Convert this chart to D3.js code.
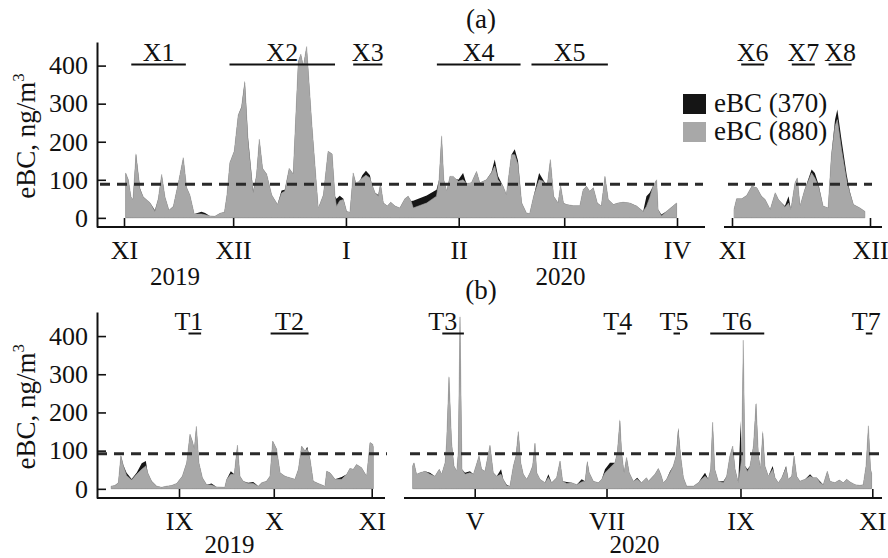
<!DOCTYPE html>
<html>
<head>
<meta charset="utf-8">
<script src="https://cdn.jsdelivr.net/npm/d3@7"></script>
<style>
  body { margin: 0; background: #fff; }
  svg text { font-family: "Liberation Serif", "Times New Roman", serif; fill: #111; }
</style>
</head>
<body>
<div id="chart"></div>
<script>
// ---------- data ----------
var thresholdA = 88;
var thresholdB = 92;

// (a) Nov 2019 - Apr 2020, day offsets from 1 Nov 2019
var a1Start = "2019-11-01";
var a1Day = [0.45, 1.19, 1.92, 2.47, 3.29, 4.39, 5.3, 7.14, 8.5, 9.43,
  10.35, 11.26, 12.36, 13.55, 14.9, 16.3, 17.2, 18.1, 19.3, 21.3,
  22.3, 23.6, 25.0, 26.4, 27.6, 28.3, 29.1, 30.3, 31.4, 32.3,
  33.2, 34.1, 35.5, 36.4, 37.2, 38.1, 39.2, 40.6, 42.2, 43.3,
  44.2, 45.4, 46.5, 47.9, 48.6, 49.3, 50.2, 51.6, 53.4, 54.8,
  56.1, 57.2, 58.0, 58.4, 59.3, 60.3, 61.2, 62.1, 63.0, 63.7,
  64.4, 65.5, 66.5, 67.6, 68.0, 69.0, 69.9, 70.5, 71.3, 72.4,
  73.3, 74.5, 75.8, 77.2, 78.1, 78.9, 79.5, 83.2, 85.9, 86.6,
  87.3, 87.9, 88.7, 89.6, 90.5, 91.9, 93.2, 94.1, 95.5, 96.9,
  97.8, 99.6, 101.0, 101.9, 102.8, 104.2, 105.1, 106.5, 107.4, 108.3,
  109.3, 110.6, 111.5, 112.6, 114.1, 115.2, 116.3, 117.2, 118.1, 119.3,
  120.0, 120.8, 121.6, 123.5, 125.3, 126.2, 127.1, 128.0, 129.0, 130.1,
  131.2, 132.2, 133.1, 134.5, 135.8, 137.2, 139.0, 140.9, 142.7, 143.6,
  144.5, 145.4, 146.4, 146.8, 147.7, 149.1, 150.9, 151.9];
var a1Bc880 = [118, 100, 55, 48, 166, 75, 55, 40, 17, 50,
  114, 55, 20, 30, 90, 158, 80, 60, 10, 10,
  8, 5, 4, 12, 15, 60, 145, 175, 270, 290,
  355, 200, 65, 110, 206, 130, 115, 60, 35, 65,
  70, 130, 115, 410, 430, 398, 450, 250, 25, 60,
  175, 168, 57, 30, 45, 48, 17, 15, 118, 92,
  95, 105, 112, 105, 92, 66, 57, 90, 39, 31,
  41, 31, 26, 50, 57, 44, 26, 39, 57, 100,
  214, 100, 70, 109, 109, 96, 100, 90, 92, 122,
  92, 100, 118, 136, 100, 83, 61, 166, 166, 140,
  40, 13, 11, 57, 100, 96, 83, 153, 57, 39,
  85, 39, 35, 32, 32, 74, 83, 70, 79, 39,
  31, 109, 48, 35, 39, 41, 39, 31, 17, 30,
  53, 83, 100, 22, 5, 17, 31, 39];
var a1Bc370 = [118, 100, 55, 48, 170, 78, 55, 40, 20, 50,
  114, 55, 20, 30, 90, 158, 80, 60, 10, 16,
  13, 5, 4, 12, 15, 60, 145, 175, 270, 292,
  360, 210, 70, 110, 208, 130, 115, 60, 35, 72,
  74, 130, 115, 410, 430, 398, 450, 250, 25, 60,
  175, 168, 57, 50, 58, 50, 17, 15, 118, 92,
  88, 112, 124, 112, 92, 66, 60, 90, 39, 31,
  41, 31, 26, 50, 57, 44, 45, 59, 74, 100,
  218, 100, 70, 109, 105, 100, 118, 90, 92, 122,
  92, 100, 120, 153, 110, 83, 61, 166, 180, 150,
  40, 13, 11, 57, 118, 100, 83, 153, 57, 39,
  85, 39, 35, 32, 32, 74, 83, 70, 79, 39,
  31, 109, 48, 35, 39, 41, 39, 31, 17, 57,
  66, 83, 100, 22, 9, 17, 31, 39];
var a1Months = ["2019-11-01", "2019-12-01", "2020-01-01", "2020-02-01", "2020-03-01", "2020-04-01"];
var a1MonthLabels = ["XI", "XII", "I", "II", "III", "IV"];

// (a) Nov 2020, day offsets from 1 Nov 2020
var a2Start = "2020-11-01";
var a2Day = [0.43, 1.0, 2.1, 3.2, 4.3, 5.4, 6.4, 7.2, 8.3, 9.4,
  10.1, 10.8, 11.5, 12.3, 12.8, 13.7, 14.2, 14.8, 15.8, 17.3,
  18.0, 18.8, 19.8, 20.9, 21.6, 22.4, 22.9, 23.8, 24.9, 25.6,
  26.4, 27.8, 28.9];
var a2Bc880 = [22, 50, 50, 59, 83, 79, 57, 48, 22, 66,
  48, 39, 28, 39, 22, 92, 105, 31, 74, 118,
  105, 83, 31, 26, 162, 241, 258, 180, 100, 66,
  35, 26, 17];
var a2Bc370 = [22, 50, 50, 59, 83, 79, 57, 48, 22, 66,
  48, 39, 31, 57, 22, 92, 105, 31, 74, 127,
  118, 88, 31, 26, 165, 258, 285, 206, 115, 70,
  35, 26, 17];
var a2Months = ["2020-11-01", "2020-12-01"];
var a2MonthLabels = ["XI", "XII"];

// (b) Aug - Oct 2019, day offsets from 1 Sep 2019
var b1Start = "2019-09-01";
var b1Day = [-21.5, -20.3, -19.2, -18.4, -17.6, -16.6, -15.0, -13.4, -11.8, -10.5,
  -9.9, -8.65, -7.06, -5.5, -3.9, -2.32, -0.74, 1.05, 2.43, 3.48,
  4.22, 4.85, 5.5, 6.3, 7.4, 8.75, 10.3, 11.9, 14.5, 15.1,
  16.4, 17.5, 18.5, 19.3, 20.3, 21.9, 23.5, 25.1, 26.2, 27.7,
  28.8, 29.65, 30.9, 32.0, 33.55, 35.1, 36.7, 37.8, 38.8, 39.9,
  40.6, 41.5, 42.5, 44.1, 46.2, 46.75, 47.8, 49.4, 51.5, 53.1,
  54.1, 55.2, 56.2, 57.8, 59.4, 60.46, 61.3, 61.5];
var b1Bc880 = [7, 9, 16, 86, 60, 35, 23, 38, 51, 60,
  42, 20, 7, 4, 7, 9, 14, 33, 68, 143,
  125, 104, 163, 68, 29, 11, 10, 5, 4, 25,
  38, 38, 114, 33, 20, 14, 14, 7, 16, 20,
  33, 125, 104, 42, 33, 29, 25, 51, 112, 99,
  104, 77, 20, 14, 7, 46, 42, 25, 25, 38,
  53, 51, 64, 55, 33, 121, 117, 110];
var b1Bc370 = [7, 9, 16, 88, 62, 42, 26, 42, 67, 73,
  42, 20, 7, 4, 7, 9, 14, 33, 68, 143,
  125, 104, 165, 68, 29, 11, 14, 5, 4, 25,
  46, 38, 116, 33, 20, 16, 18, 7, 16, 20,
  33, 125, 104, 42, 33, 29, 25, 51, 112, 99,
  110, 77, 20, 14, 7, 46, 42, 25, 31, 38,
  53, 51, 64, 55, 33, 121, 117, 110];
var b1Months = ["2019-09-01", "2019-10-01", "2019-11-01"];
var b1MonthLabels = ["IX", "X", "XI"];

// (b) Apr - Oct 2020, day offsets from 1 May 2020
var b2Start = "2020-05-01";
var b2Day = [-28.7, -28.1, -26.9, -25.3, -23.0, -20.7, -18.4, -16.4, -15.3, -13.7,
  -13.0, -11.9, -10.7, -9.6, -8.3, -7.6, -6.8, -5.9, -4.5, -2.2,
  -0.6, 0.6, 2.0, 3.2, 4.77, 7.08, 8.6, 10.17, 12.2, 13.2,
  14.8, 16.3, 17.9, 19.1, 20.2, 21.3, 22.5, 24.1, 25.6, 26.8,
  27.9, 28.7, 30.2, 32.5, 34.1, 35.6, 37.9, 39.5, 40.7, 42.6,
  44.9, 47.2, 49.5, 51.1, 52.1, 53.0, 54.9, 57.2, 58.8, 60.3,
  62.6, 64.9, 66.0, 67.2, 68.0, 69.1, 70.3, 71.5, 73.4, 75.2,
  77.2, 79.5, 80.4, 81.9, 83.4, 85.0, 86.1, 87.3, 88.8, 90.4,
  91.9, 93.2, 94.2, 95.3, 96.6, 98.1, 101.2, 103.5, 105.0, 106.6,
  108.1, 109.2, 110.1, 111.1, 112.7, 115.1, 116.6, 118.1, 119.4, 120.5,
  122.0, 123.1, 123.5, 124.3, 125.1, 126.2, 127.4, 129.0, 130.2, 131.3,
  132.3, 133.3, 134.3, 135.9, 137.9, 139.0, 140.5, 142.1, 144.1, 145.1,
  146.7, 147.8, 149.0, 150.5, 152.9, 155.2, 156.7, 158.3, 159.8, 161.3,
  163.2, 164.4, 166.7, 168.7, 170.6, 172.1, 173.7, 176.0, 178.3, 179.8,
  181.1, 182.2, 183.2, 183.7];
var b2Bc880 = [60, 68, 38, 42, 46, 38, 33, 51, 38, 68,
  121, 292, 121, 60, 46, 95, 450, 51, 38, 42,
  38, 60, 86, 51, 46, 114, 42, 33, 38, 25,
  8, 7, 60, 86, 149, 68, 38, 25, 42, 60,
  119, 42, 25, 16, 30, 16, 29, 73, 20, 14,
  16, 11, 18, 20, 68, 42, 20, 16, 25, 42,
  55, 68, 95, 178, 95, 42, 82, 42, 20, 25,
  16, 29, 20, 29, 38, 53, 38, 16, 25, 42,
  60, 86, 150, 86, 29, 7, 7, 16, 25, 33,
  25, 51, 174, 51, 20, 16, 33, 86, 112, 51,
  16, 60, 77, 389, 60, 45, 60, 112, 222, 86,
  51, 145, 60, 33, 51, 29, 16, 29, 55, 25,
  33, 86, 33, 20, 25, 33, 29, 29, 16, 11,
  46, 20, 16, 23, 16, 25, 18, 11, 9, 11,
  60, 165, 51, 40];
var b2Bc370 = [60, 68, 38, 42, 46, 42, 33, 51, 38, 68,
  121, 296, 121, 60, 46, 95, 455, 51, 42, 46,
  38, 60, 86, 51, 46, 114, 42, 33, 51, 25,
  11, 7, 60, 86, 152, 68, 38, 25, 42, 60,
  121, 42, 25, 16, 38, 16, 29, 73, 20, 18,
  16, 11, 25, 20, 73, 42, 20, 16, 25, 51,
  68, 68, 95, 182, 95, 42, 82, 42, 20, 29,
  16, 29, 20, 29, 38, 53, 38, 16, 25, 46,
  60, 86, 160, 86, 29, 7, 7, 16, 29, 42,
  25, 51, 176, 51, 20, 20, 33, 86, 112, 51,
  16, 178, 77, 380, 60, 51, 60, 112, 226, 86,
  51, 152, 60, 33, 60, 29, 16, 29, 60, 25,
  33, 86, 33, 20, 25, 38, 29, 29, 20, 11,
  46, 20, 16, 23, 16, 25, 18, 11, 9, 11,
  60, 165, 51, 40];
var b2Months = ["2020-05-01", "2020-07-01", "2020-09-01", "2020-11-01"];
var b2MonthLabels = ["V", "VII", "IX", "XI"];

var yTicks = [0, 100, 200, 300, 400];

var aYears = ["2019", "2020"];
var aYearDates = ["2019-11-15", "2020-02-29"];
var bYears = ["2019", "2020"];
var bYearDates = ["2019-09-17", "2020-07-14"];

var aPeriodNames = ["X1", "X2", "X3", "X4", "X5", "X6", "X7", "X8"];
var aPeriodFrom = ["2019-11-03", "2019-11-30", "2020-01-03", "2020-01-26", "2020-02-21", "2020-11-03", "2020-11-14", "2020-11-22"];
var aPeriodTo = ["2019-11-18", "2019-12-29", "2020-01-11", "2020-02-18", "2020-03-13", "2020-11-08", "2020-11-19", "2020-11-27"];
var bPeriodNames = ["T1", "T2", "T3", "T4", "T5", "T6", "T7"];
var bPeriodFrom = ["2019-09-04", "2019-09-30", "2020-04-16", "2020-07-06", "2020-08-01", "2020-08-18", "2020-10-29"];
var bPeriodTo = ["2019-09-08", "2019-10-12", "2020-04-26", "2020-07-10", "2020-08-04", "2020-09-12", "2020-11-01"];

var legendLabels = ["eBC (370)", "eBC (880)"];

// ---------- drawing ----------
var width = 888, height = 558;
var black = '#151515', gray = '#a8a8a8', ink = '#111';
var parse = d3.timeParse('%Y-%m-%d');

function dayDate(start, d) {
  return new Date(+parse(start) + d * 864e5);
}

var svg = d3.select('#chart')
            .append('svg')
            .attr('width', width)
            .attr('height', height);

// y scales (the 0 tick sits a little above the x axis line)
var yA = d3.scaleLinear().domain([-24, 462]).range([227, 42]);
var yB = d3.scaleLinear().domain([-24, 463]).range([498, 312]);

// broken time axes: each piece has its own scale
var xA1 = d3.scaleTime().domain([parse('2019-11-01'), parse('2020-04-01')]).range([124, 677]);
var xA2 = d3.scaleTime().domain([parse('2020-11-01'), parse('2020-12-01')]).range([732, 870]);
var xB1 = d3.scaleTime().domain([parse('2019-09-01'), parse('2019-11-01')]).range([179, 371.7]);
var xB2 = d3.scaleTime().domain([parse('2020-05-01'), parse('2020-11-01')]).range([474.7, 872.3]);

var segments = [
  {x: xA1, y: yA, start: a1Start, day: a1Day, v880: a1Bc880, v370: a1Bc370,
   months: a1Months, labels: a1MonthLabels, line: [97, 705], dash: [100, 703], thr: thresholdA},
  {x: xA2, y: yA, start: a2Start, day: a2Day, v880: a2Bc880, v370: a2Bc370,
   months: a2Months, labels: a2MonthLabels, line: [724, 882], dash: [728, 872], thr: thresholdA},
  {x: xB1, y: yB, start: b1Start, day: b1Day, v880: b1Bc880, v370: b1Bc370,
   months: b1Months, labels: b1MonthLabels, line: [97, 385], dash: [97, 387], thr: thresholdB},
  {x: xB2, y: yB, start: b2Start, day: b2Day, v880: b2Bc880, v370: b2Bc370,
   months: b2Months, labels: b2MonthLabels, line: [404, 882], dash: [410, 885], thr: thresholdB}
];

// which piece of the broken axis holds a date
function segFor(yScale, t) {
  return segments.filter(function(s) {
    var dm = s.x.domain();
    return s.y === yScale && t >= d3.timeDay.offset(dm[0], -40) && t <= d3.timeDay.offset(dm[1], 5);
  })[0];
}

segments.forEach(function(s) {
  var rows = s.day.map(function(d, i) {
    return {t: dayDate(s.start, d), a: s.v880[i], b: s.v370[i]};
  });
  var area370 = d3.area()
                  .x(function(r) { return s.x(r.t); })
                  .y0(s.y(0))
                  .y1(function(r) { return s.y(r.b); });
  var area880 = d3.area()
                  .x(function(r) { return s.x(r.t); })
                  .y0(s.y(0))
                  .y1(function(r) { return s.y(r.a); });

  // 370 nm behind, 880 nm on top: black shows where 370 > 880
  svg.append('path').datum(rows)
     .attr('d', area370)
     .attr('fill', black);
  svg.append('path').datum(rows)
     .attr('d', area880)
     .attr('fill', gray)
     .attr('stroke', gray)
     .attr('stroke-width', 0.6);

  // dashed threshold
  svg.append('line')
     .attr('x1', s.dash[0]).attr('x2', s.dash[1])
     .attr('y1', s.y(s.thr)).attr('y2', s.y(s.thr))
     .attr('stroke', '#2a2a2a')
     .attr('stroke-width', 3)
     .attr('stroke-dasharray', '10,7');

  // x axis piece
  var base = s.y.range()[0];
  svg.append('line')
     .attr('x1', s.line[0]).attr('x2', s.line[1])
     .attr('y1', base).attr('y2', base)
     .attr('stroke', ink)
     .attr('stroke-width', 2);

  var g = svg.append('g')
             .attr('transform', 'translate(0,' + base + ')')
             .call(d3.axisBottom(s.x)
                     .tickValues(s.months.map(function(m) { return parse(m); }))
                     .tickFormat(function(d, i) { return s.labels[i]; })
                     .tickSizeInner(-9)
                     .tickSizeOuter(0)
                     .tickPadding(14));
  g.select('.domain').remove();
  g.attr('font-size', 26).attr('color', ink);
  g.selectAll('.tick line').attr('stroke-width', 1.6);
});

// y axes
[yA, yB].forEach(function(y) {
  var g = svg.append('g')
             .attr('transform', 'translate(97,0)')
             .call(d3.axisLeft(y)
                     .tickValues(yTicks)
                     .tickSizeInner(-9)
                     .tickSizeOuter(0)
                     .tickPadding(9));
  g.attr('font-size', 26).attr('color', ink);
  g.select('.domain').attr('stroke-width', 2);
  g.selectAll('.tick line').attr('stroke-width', 1.6);

  var lab = svg.append('text')
               .attr('transform', 'translate(35,' + y(215) + ') rotate(-90)')
               .attr('text-anchor', 'middle')
               .style('font-size', '27px');
  lab.append('tspan').text('eBC, ng/m');
  lab.append('tspan').text('3').attr('dy', -11).style('font-size', '17px');
});

// year labels
function yearLabels(names, dates, yScale, yBase) {
  names.forEach(function(n, i) {
    var t = parse(dates[i]);
    var seg = segFor(yScale, t);
    svg.append('text')
       .attr('x', seg.x(t))
       .attr('y', yBase)
       .attr('text-anchor', 'middle')
       .style('font-size', '25px')
       .text(n);
  });
}
yearLabels(aYears, aYearDates, yA, 285);
yearLabels(bYears, bYearDates, yB, 553);

// panel letters
svg.append('text').attr('x', 481).attr('y', 28).attr('text-anchor', 'middle')
   .style('font-size', '27px').text('(a)');
svg.append('text').attr('x', 481).attr('y', 299).attr('text-anchor', 'middle')
   .style('font-size', '27px').text('(b)');

// period bars and labels
function periods(names, from, to, barY, yScale, centerAll) {
  names.forEach(function(n, i) {
    var t0 = parse(from[i]), t1 = parse(to[i]);
    var seg = segFor(yScale, t0);
    var x0 = seg.x(t0), x1 = seg.x(t1);
    svg.append('line')
       .attr('x1', x0).attr('x2', x1)
       .attr('y1', barY).attr('y2', barY)
       .attr('stroke', ink)
       .attr('stroke-width', 2);
    var txt = svg.append('text')
                 .attr('y', barY - 4)
                 .style('font-size', '26px')
                 .text(n);
    if (centerAll || x1 - x0 > 30) {
      txt.attr('x', (x0 + x1) / 2).attr('text-anchor', 'middle');
    } else {
      // short periods: underline sits under the digit
      txt.attr('x', x0 - 14).attr('text-anchor', 'start');
    }
  });
}
periods(aPeriodNames, aPeriodFrom, aPeriodTo, 64.5, yA, true);
periods(bPeriodNames, bPeriodFrom, bPeriodTo, 333.5, yB, false);

// legend
var legendColors = [black, gray];
legendLabels.forEach(function(l, i) {
  svg.append('rect')
     .attr('x', 683).attr('y', 94 + i * 28)
     .attr('width', 23).attr('height', 20)
     .attr('fill', legendColors[i]);
  svg.append('text')
     .attr('x', 714).attr('y', 112 + i * 28)
     .style('font-size', '27px')
     .text(l);
});
</script>
</body>
</html>
